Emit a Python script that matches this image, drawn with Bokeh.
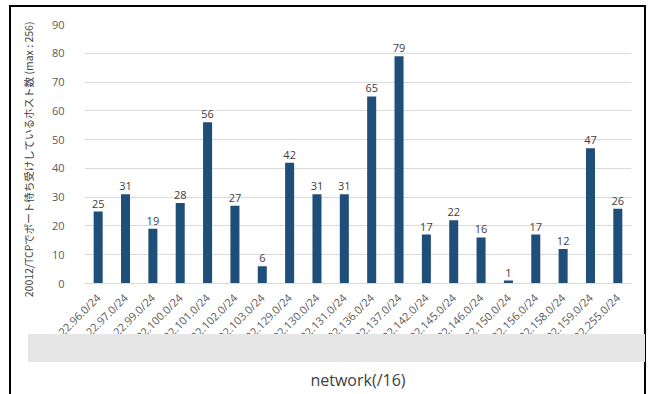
from math import pi
from bokeh.plotting import figure
from bokeh.models import (ColumnDataSource, FactorRange, Range1d, FixedTicker,
                          InlineStyleSheet)
from bokeh.core.properties import value
from bokeh.embed import file_html
from bokeh.resources import INLINE

# ---- data ----
networks = ["22.96.0/24", "22.97.0/24", "22.99.0/24", "22.100.0/24", "22.101.0/24",
            "22.102.0/24", "22.103.0/24", "22.129.0/24", "22.130.0/24", "22.131.0/24",
            "22.136.0/24", "22.137.0/24", "22.142.0/24", "22.145.0/24", "22.146.0/24",
            "22.150.0/24", "22.156.0/24", "22.158.0/24", "22.159.0/24", "22.255.0/24"]
hosts = [25, 31, 19, 28, 56, 27, 6, 42, 31, 31, 65, 79, 17, 22, 16, 1, 17, 12, 47, 26]
y_ticks = [0, 10, 20, 30, 40, 50, 60, 70, 80, 90]
y_title = "20012/TCPでポート待ち受けしているホスト数 (max : 256)\u3000"
x_title = "network(/16)"

source = ColumnDataSource(dict(net=networks, hosts=hosts,
                               lbl=[str(v) for v in hosts]))

FONT = "Open Sans"

p = figure(width=652, height=394, output_backend="svg", toolbar_location=None,
           x_range=FactorRange(*networks, range_padding=0),
           y_range=Range1d(0, 90),
           min_border_left=84, min_border_right=21,
           min_border_top=24, min_border_bottom=111)
p.outline_line_color = None
p.background_fill_color = "white"
p.border_fill_color = "white"

p.vbar(x="net", top="hosts", width=0.33, source=source,
       fill_color="#1f4e79", line_color=None)
p.text(x="net", y="hosts", text="lbl", source=source, y_offset=-4,
       text_align="center", text_baseline="bottom",
       text_font=value(FONT), text_font_size="11px", text_color="#404040")

# y axis
p.yaxis.ticker = FixedTicker(ticks=y_ticks)
p.yaxis.axis_line_color = None
p.yaxis.major_tick_line_color = None
p.yaxis.minor_tick_line_color = None
p.yaxis.major_label_standoff = 14
p.yaxis.major_label_text_font = FONT
p.yaxis.major_label_text_font_size = "11px"
p.yaxis.major_label_text_color = "#595959"
p.yaxis.axis_label = y_title
p.yaxis.axis_label_standoff = 13
p.yaxis.axis_label_text_font = "Noto Sans CJK JP"
p.yaxis.axis_label_text_font_size = "10.5px"
p.yaxis.axis_label_text_font_style = "normal"
p.yaxis.axis_label_text_color = "#404040"
p.ygrid.grid_line_color = "#d9d9d9"
p.ygrid.grid_line_width = 1

# x axis
p.xaxis.axis_line_color = "#d9d9d9"
p.xaxis.major_tick_line_color = None
p.xaxis.minor_tick_line_color = None
p.xaxis.major_label_orientation = pi / 4
p.xaxis.major_label_standoff = 6
p.xaxis.major_label_text_font = FONT
p.xaxis.major_label_text_font_size = "11px"
p.xaxis.major_label_text_color = "#595959"
p.xaxis.axis_label = x_title
p.xaxis.axis_label_standoff = 17
p.xaxis.axis_label_text_font = FONT
p.xaxis.axis_label_text_font_size = "16px"
p.xaxis.axis_label_text_font_style = "normal"
p.xaxis.axis_label_text_color = "#404040"
p.xgrid.grid_line_color = None

# outer border and grey mask band (page decoration)
css = """
:host { position: relative; }
:host::before { content: ""; position: absolute; left: 9px; top: 5px;
  width: 637px; height: 389px; box-sizing: border-box;
  border: 2px solid #000; border-bottom: none; z-index: 20; pointer-events: none; }
:host::after { content: ""; position: absolute; left: 28px; top: 334px;
  width: 617px; height: 28px; background: #e6e6e6; z-index: 21; pointer-events: none; }
"""
p.stylesheets = [InlineStyleSheet(css=css)]

open("out.html", "w").write(file_html(p, INLINE))
